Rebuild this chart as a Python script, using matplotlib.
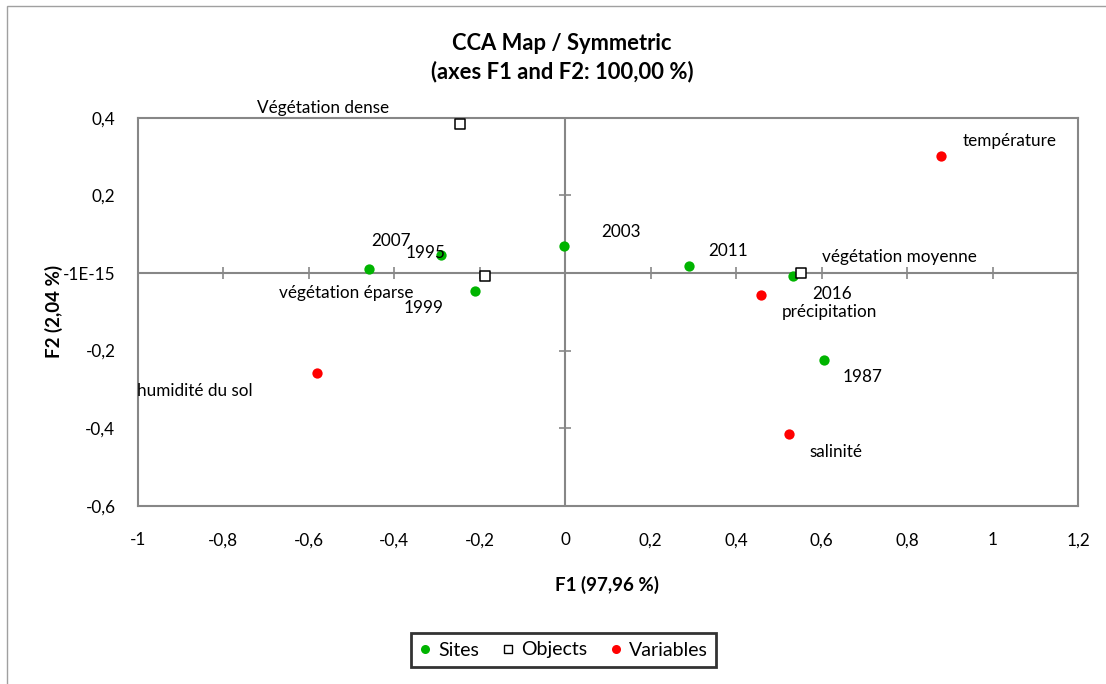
import matplotlib
matplotlib.use("Agg")
import matplotlib.pyplot as plt
from matplotlib.patches import Rectangle
from matplotlib.lines import Line2D

plt.rcParams['font.family'] = ['Lato', 'DejaVu Sans']

# --- CCA scores -------------------------------------------------------------
site_names = ["2007", "1995", "1999", "2003", "2011", "2016", "1987"]
site_f1 = [-0.459, -0.291, -0.211, -0.003, 0.290, 0.534, 0.605]
site_f2 = [0.010, 0.046, -0.046, 0.070, 0.019, -0.008, -0.224]

object_names = ["Végétation dense", "végétation éparse", "végétation moyenne"]
object_f1 = [-0.247, -0.187, 0.552]
object_f2 = [0.384, -0.009, 0.001]

variable_names = ["température", "précipitation", "humidité du sol", "salinité"]
variable_f1 = [0.879, 0.458, -0.581, 0.523]
variable_f2 = [0.302, -0.057, -0.259, -0.416]

x_ticks = [-1, -0.8, -0.6, -0.4, -0.2, 0, 0.2, 0.4, 0.6, 0.8, 1, 1.2]
x_tick_labels = ["-1", "-0,8", "-0,6", "-0,4", "-0,2", "0", "0,2", "0,4", "0,6", "0,8", "1", "1,2"]
y_ticks = [-0.6, -0.4, -0.2, 0, 0.2, 0.4]
y_tick_labels = ["-0,6", "-0,4", "-0,2", "-1E-15", "0,2", "0,4"]

# label offsets (pixels, right / up) from each marker
site_offsets = [(22, 28), (-15.5, 2), (-51, -17), (57, 14), (39, 15), (38.7, -18), (38.3, -16.7)]
object_offsets = [(-136.5, 16), (-138.8, -16.7), (98.2, 15.4)]
variable_offsets = [(68.2, 14.7), (68.5, -16.7), (-122.3, -17.7), (47.4, -17.4)]

GREEN = "#00B400"
RED = "#FF0000"
GRID = "#878787"
FS = 12.3

fig = plt.figure(figsize=(11.06, 6.84), dpi=100)
W, H = 1106, 684

# chart frame
fig.patches.append(Rectangle((7 / W, -0.1), 1.2, 1 - 6 / H + 0.1, transform=fig.transFigure,
                             fill=False, edgecolor="#A0A0A0", linewidth=1.0))

ax = fig.add_axes([137.7 / W, 1 - 505.8 / H, (1078.2 - 137.7) / W, (505.8 - 117.8) / H])
ax.set_xlim(-1, 1.2)
ax.set_ylim(-0.6, 0.4)
for s in ax.spines.values():
    s.set_color(GRID)
    s.set_linewidth(1.5)

ax.set_xticks(x_ticks)
ax.set_xticklabels(x_tick_labels)
ax.set_yticks(y_ticks)
ax.set_yticklabels(y_tick_labels)
ax.tick_params(length=0, labelsize=FS, colors="black")
ax.tick_params(axis="x", pad=19)
ax.tick_params(axis="y", pad=16)

# central axes through the origin, with tick marks
ax.axhline(0, color=GRID, linewidth=1.5, zorder=1)
ax.axvline(0, color=GRID, linewidth=1.5, zorder=1)
ax.plot(x_ticks, [0] * len(x_ticks), linestyle="none", marker="|", markersize=9,
        markeredgewidth=1.2, color=GRID, zorder=1)
ax.plot([0] * len(y_ticks), y_ticks, linestyle="none", marker="_", markersize=9,
        markeredgewidth=1.2, color=GRID, zorder=1)

ax.scatter(site_f1, site_f2, s=55, color=GREEN, zorder=3, linewidths=0)
ax.scatter(object_f1, object_f2, s=42, marker="s", facecolor="white", edgecolor="black",
           linewidths=1.1, zorder=3)
ax.scatter(variable_f1, variable_f2, s=55, color=RED, zorder=3, linewidths=0)

px = 0.72  # points per pixel at 100 dpi
for names, xs, ys, offs in [(site_names, site_f1, site_f2, site_offsets),
                            (object_names, object_f1, object_f2, object_offsets),
                            (variable_names, variable_f1, variable_f2, variable_offsets)]:
    for n, x, y, (dx, dy) in zip(names, xs, ys, offs):
        ax.annotate(n, (x, y), xytext=(dx * px, dy * px), textcoords="offset points",
                    ha="center", va="center", fontsize=FS, zorder=4, annotation_clip=False)

fig.text(562 / W, 1 - 43 / H, "CCA Map / Symmetric", ha="center", va="center",
         fontsize=15.8, fontweight="bold")
fig.text(562 / W, 1 - 72 / H, "(axes F1 and F2: 100,00 %)", ha="center", va="center",
         fontsize=15.8, fontweight="bold")
fig.text(607 / W, 1 - 585 / H, "F1 (97,96 %)", ha="center", va="center",
         fontsize=13.5, fontweight="bold")
fig.text(54 / W, 1 - 311 / H, "F2 (2,04 %)", ha="center", va="center",
         fontsize=13.5, fontweight="bold", rotation=90)

handles = [
    Line2D([], [], linestyle="none", marker="o", markersize=6.5, color=GREEN, markeredgewidth=0),
    Line2D([], [], linestyle="none", marker="s", markersize=6, markerfacecolor="white",
           markeredgecolor="black", markeredgewidth=1),
    Line2D([], [], linestyle="none", marker="o", markersize=6.5, color=RED, markeredgewidth=0),
]
leg = fig.legend(handles, ["Sites", "Objects", "Variables"], loc="center",
                 bbox_to_anchor=(563.5 / W, 1 - 650 / H), ncol=3, fontsize=14,
                 frameon=True, fancybox=False, handlelength=0.6, handletextpad=0.35,
                 columnspacing=1.2, borderpad=0.45)
leg.get_frame().set_edgecolor("black")
leg.get_frame().set_linewidth(2)

fig.savefig("out.png", dpi=100)
